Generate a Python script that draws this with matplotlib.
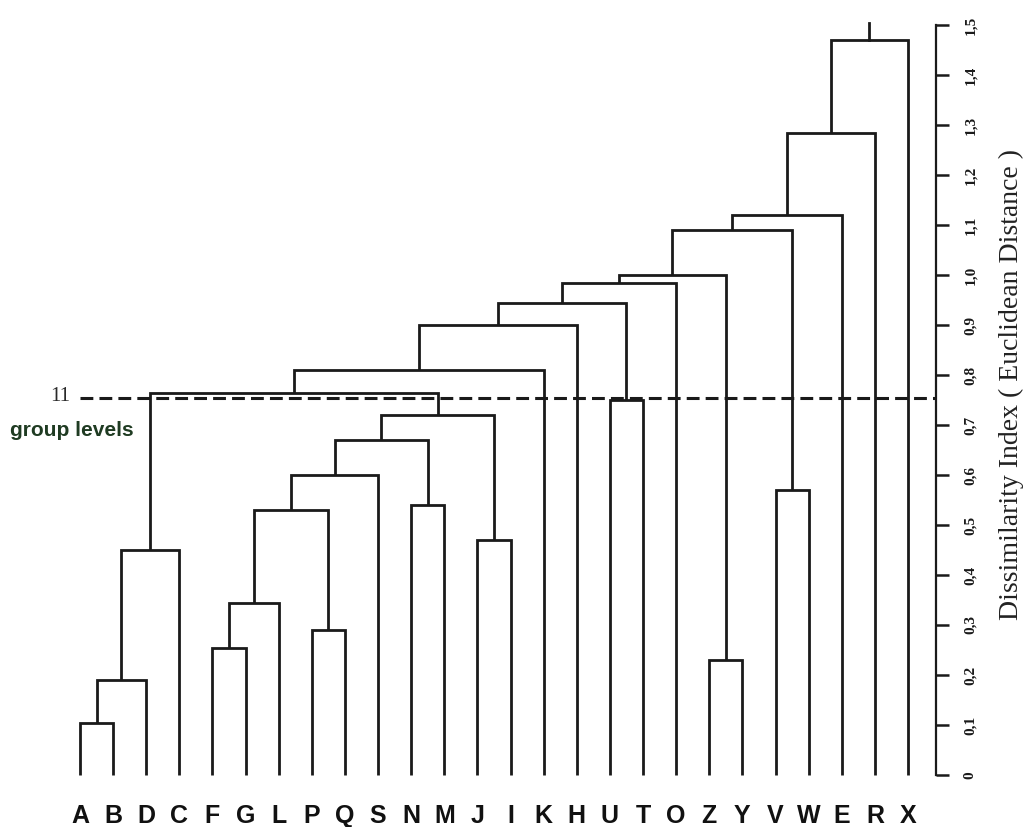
import numpy as np
import matplotlib
matplotlib.use("Agg")
import matplotlib.pyplot as plt

# leaf order along the bottom
leaves = ["A", "B", "D", "C", "F", "G", "L", "P", "Q", "S", "N", "M", "J",
          "I", "K", "H", "U", "T", "O", "Z", "Y", "V", "W", "E", "R", "X"]

# merges: left child, right child, height (children are leaf names or "m<k>")
merge_left = ["A", "m0", "m1", "F", "m3", "P", "m4", "m6", "N", "m7", "J",
              "m9", "m2", "m12", "m13", "U", "m14", "m16", "Z", "m17", "V",
              "m19", "m21", "m22", "m23"]
merge_right = ["B", "D", "C", "G", "L", "Q", "m5", "S", "M", "m8", "I",
               "m10", "m11", "K", "H", "T", "m15", "O", "Y", "m18", "W",
               "m20", "E", "R", "X"]
merge_height = [0.105, 0.19, 0.45, 0.255, 0.345, 0.29, 0.53, 0.60, 0.54,
                0.67, 0.47, 0.72, 0.765, 0.81, 0.90, 0.75, 0.945, 0.985,
                0.23, 1.00, 0.57, 1.09, 1.12, 1.285, 1.47]

cut_level = 0.755
yticks = np.round(np.arange(0, 1.51, 0.1), 1)

fig = plt.figure(figsize=(10.28, 8.27), dpi=100)
# axes: leaves placed 33 px apart starting at x=80 px
step = 33.12
x0 = -80 / step
x1 = (936 - 80) / step
ax = fig.add_axes([0, 0, 936 / 1028, 812 / 827])
ax.set_xlim(x0, x1)
ax.set_ylim(-0.104, 1.52)

pos = {name: i for i, name in enumerate(leaves)}
hgt = {name: 0.0 for name in leaves}
lc = "#1a1a1a"
lw = 2.0

for k, (a, b, h) in enumerate(zip(merge_left, merge_right, merge_height)):
    xa, xb = pos[a], pos[b]
    ax.plot([xa, xa, xb, xb], [hgt[a], h, h, hgt[b]], color=lc, lw=lw,
            solid_joinstyle="miter", solid_capstyle="butt")
    pos["m%d" % k] = (xa + xb) / 2
    hgt["m%d" % k] = h

# root stub
root = "m%d" % (len(merge_height) - 1)
ax.plot([pos[root], pos[root]], [hgt[root], 1.505], color=lc, lw=lw)

# cut line
ax.plot([0, x1], [cut_level, cut_level], color=lc, lw=2.2,
        linestyle=(0, (4.2, 2.0)))

# leaf labels
for i, name in enumerate(leaves):
    ax.text(i, -0.082, name, ha="center", va="center", fontsize=18,
            fontweight="bold", family=["Liberation Sans", "DejaVu Sans"],
            color="#111111", clip_on=False)

ax.text(-0.6, cut_level + 0.002, "11", ha="center", va="center",
        fontsize=15, family=["Liberation Serif", "DejaVu Serif"],
        color="#2a2a2a")
ax.text(-2.12, cut_level - 0.065, "group levels", ha="left", va="center",
        fontsize=15, fontweight="bold",
        family=["Liberation Sans", "DejaVu Sans"], color="#1f3b22")

# right axis
for s in ["left", "top", "bottom"]:
    ax.spines[s].set_visible(False)
ax.spines["right"].set_bounds(0, 1.5)
ax.spines["right"].set_linewidth(1.6)
ax.spines["right"].set_color(lc)
ax.set_xticks([])
ax.yaxis.tick_right()
ax.set_yticks(yticks)
ax.set_yticklabels(["0" if v == 0 else ("%.1f" % v).replace(".", ",")
                    for v in yticks],
                   rotation=90, va="center", fontsize=11, fontweight="bold",
                   family=["Liberation Serif", "DejaVu Serif"])
ax.tick_params(axis="y", direction="out", length=9, width=1.8, pad=11,
               colors=lc)

fig.text(1011 / 1028, 1 - 385 / 827,
         "Dissimilarity Index ( Euclidean Distance )", rotation=90,
         ha="center", va="center", fontsize=20,
         family=["Liberation Serif", "DejaVu Serif"], color="#222222")

fig.savefig("out.png", dpi=100, facecolor="white")
